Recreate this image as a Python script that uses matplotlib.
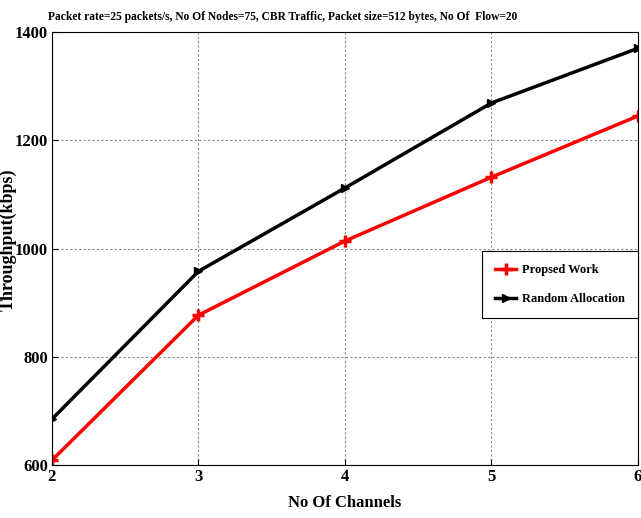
import matplotlib
matplotlib.use("Agg")
import matplotlib.pyplot as plt

channels = [2, 3, 4, 5, 6]
proposed_work = [609, 877, 1014, 1132, 1245]
random_allocation = [685, 958, 1112, 1269, 1370]

y_ticks = [600, 800, 1000, 1200, 1400]
title = ("Packet rate=25 packets/s, No Of Nodes=75, CBR Traffic, "
         "Packet size=512 bytes, No Of  Flow=20")

plt.rcParams["font.family"] = "Liberation Serif"
plt.rcParams["font.weight"] = "bold"

fig = plt.figure(figsize=(6.41, 5.18), dpi=100)
ax = fig.add_axes([0.081, 0.102, 0.914, 0.836])

ax.plot(channels, proposed_work, color="red", linewidth=2.5,
        marker="+", markersize=8, markeredgewidth=2.5, label="Propsed Work")
ax.plot(channels, random_allocation, color="black", linewidth=2.5,
        marker=">", markersize=6, label="Random Allocation")

ax.set_xlim(2, 6)
ax.set_ylim(600, 1400)
ax.set_xticks(channels)
ax.set_yticks(y_ticks)
ax.tick_params(labelsize=12, direction="in", length=4, pad=3)
for lbl in ax.get_xticklabels() + ax.get_yticklabels():
    lbl.set_fontweight("bold")

ax.grid(True, linestyle=(0, (2, 2)), color="#888888", linewidth=0.8)

# title sits a little left of the axes centre in the original
fig.text(283 / 641, 1 - 17 / 518, title, fontsize=8.3, fontweight="bold",
         ha="center", va="center")
ax.set_xlabel("No Of Channels", fontsize=12, fontweight="bold")
ax.xaxis.set_label_coords(0.5, -0.07)
ax.set_ylabel("Throughput(kbps)", fontsize=13, fontweight="bold")
ax.yaxis.set_label_coords(-0.060, 0.52)

leg = ax.legend(loc="lower right", bbox_to_anchor=(1.0, 0.34),
                borderaxespad=0.0,
                prop={"size": 9, "weight": "bold"}, fancybox=False,
                edgecolor="black", framealpha=1, borderpad=1.0,
                labelspacing=1.4, handlelength=1.7, handletextpad=0.5)
leg.get_frame().set_linewidth(0.8)

fig.savefig("out.png", dpi=100)
